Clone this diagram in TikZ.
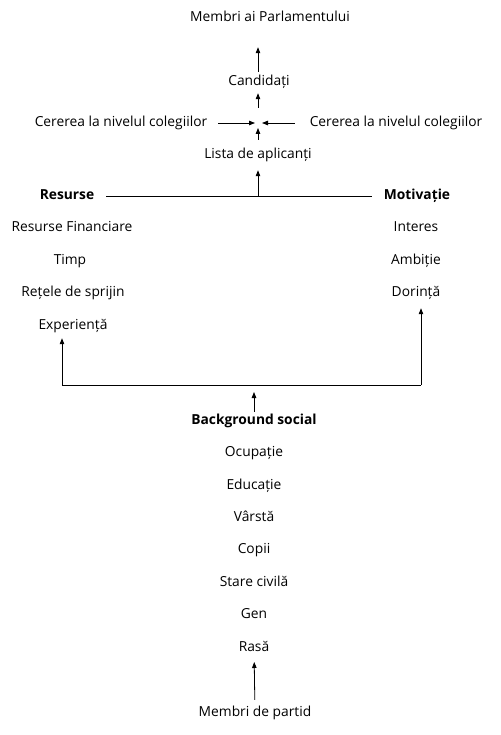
\documentclass[tikz,border=0pt]{standalone}
\usepackage{fontspec}
\setmainfont{Open Sans}
\usetikzlibrary{arrows.meta}

\begin{document}
\begin{tikzpicture}[
    x=1pt, y=-1pt,
    txt/.style={font=\fontsize{13.8}{16}\selectfont, inner sep=0pt,
        text height=9.5pt, text depth=3pt},
    headtxt/.style={txt, font=\fontsize{13.8}{16}\selectfont\bfseries},
    arrow/.style={-{Triangle[length=6pt,width=4.5pt]}, line width=0.8pt},
    hline/.style={line width=0.8pt}
]
\useasboundingbox (0,0) rectangle (500,735);

% TOP CHAIN
\node[txt] (mps) at (270,18) {Membri ai Parlamentului};
\node[txt] (cand) at (259,82) {Candidați};
\coordinate (jn) at (258,123);
\node[txt] (cerL) at (121,123) {Cererea la nivelul colegiilor};
\node[txt] (cerR) at (396,123) {Cererea la nivelul colegiilor};
\node[txt] (lista) at (258,155) {Lista de aplicanți};

% RESOURCES / MOTIVATION
\node[headtxt] (res) at (67,196) {Resurse};
\node[headtxt] (mot) at (417,196) {Motivație};
\coordinate (split) at (258,196);
\node[txt] (fin) at (72,228) {Resurse Financiare};
\node[txt] (timp) at (70,261) {Timp};
\node[txt] (retele) at (73,293) {Rețele de sprijin};
\node[txt] (exp) at (73,326) {Experiență};
\node[txt] (int) at (416,228) {Interes};
\node[txt] (amb) at (416,261) {Ambiție};
\node[txt] (dor) at (416,293) {Dorință};

% SOCIAL BACKGROUND
\coordinate (bl) at (62,385);
\coordinate (br) at (421,385);
\node[headtxt] (bg) at (254,421) {Background social};
\foreach \name/\label [count=\i] in {ocup/Ocupație, educ/Educație, varsta/Vârstă,
    copii/Copii, stare/Stare civilă, gen/Gen, rasa/Rasă}
    \node[txt] (\name) at (254,421+32.4*\i) {\label};
\node[txt] (partid) at (255,713) {Membri de partid};

% ARROWS
\draw[arrow, shorten <=3.75pt, shorten >=22.75pt] (cand.north -| jn) -- (mps.south -| jn);
\draw[arrow, shorten <=15pt, shorten >=4.75pt] (jn) -- (cand.south -| jn);
\draw[arrow, shorten <=8.75pt, shorten >=5pt] (lista) -- (jn);
\draw[arrow, shorten <=11pt, shorten >=3pt] (cerL) -- (jn);
\draw[arrow, shorten <=15pt, shorten >=4pt] (cerR) -- (jn);
\draw[arrow, shorten >=8.75pt] (split) -- (lista.south);
\draw[hline, shorten <=12pt, shorten >=12pt] (res) -- (mot);

\draw[hline] (bl) -- (br);
\draw[arrow, shorten >=5.75pt] (bl) -- (bl |- exp.south);
\draw[arrow, shorten >=8.75pt] (br) -- (br |- dor.south);
\draw[arrow, shorten <=2.75pt, shorten >=7pt] (bg.north) -- (bg.north |- bl);
\draw[arrow, shorten <=6.75pt, shorten >=7.75pt] (partid) -- (rasa);

\end{tikzpicture}
\end{document}
